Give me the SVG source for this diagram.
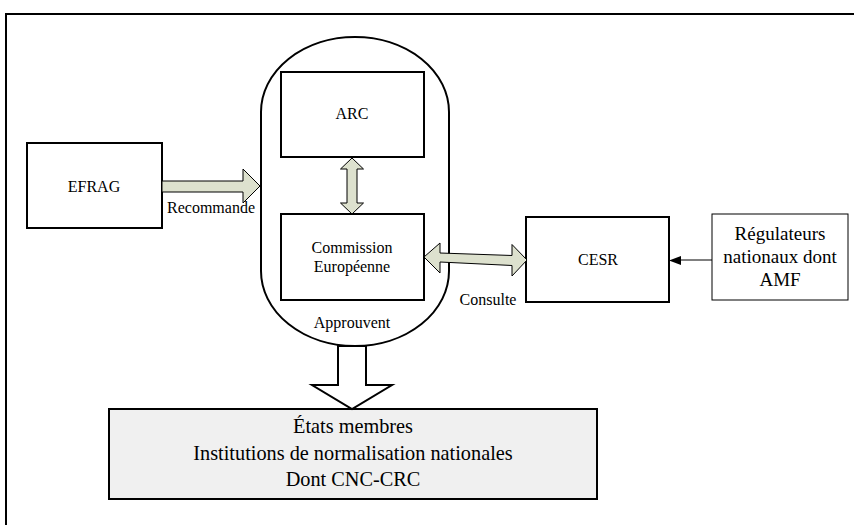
<svg xmlns="http://www.w3.org/2000/svg" width="854" height="525" viewBox="0 0 854 525">
<style>
text{font-family:"Liberation Serif","Times New Roman",serif;fill:#000;text-anchor:middle}
.box{fill:#fff;stroke:#000;stroke-width:2}
.thin{fill:#fff;stroke:#000;stroke-width:1}
.fat{fill:#dde1ce;stroke:#000;stroke-width:1}
.s16{font-size:16px}
.s19{font-size:19px}
.s20{font-size:20.3px}
</style>
<rect width="854" height="525" fill="#fff"/>
<path d="M6,540 L6,14 L870,14" fill="none" stroke="#000" stroke-width="2"/>
<g id="pill">
<path d="M261,112 A94,75 0 0 1 449,112 L449,271 A94,75 0 0 1 261,271 Z" fill="#fff" stroke="#000" stroke-width="2"/>
<text class="s16" x="352" y="328">Approuvent</text>
</g>
<g id="arc">
<rect class="box" x="281" y="72" width="143" height="85"/>
<text class="s16" x="352" y="119">ARC</text>
</g>
<g id="commission">
<rect class="box" x="281" y="214" width="143" height="86"/>
<text class="s16" x="352" y="253">Commission</text>
<text class="s16" x="352" y="272">Européenne</text>
</g>
<g id="efrag">
<rect class="box" x="27" y="143" width="135" height="85"/>
<text class="s16" x="94" y="192">EFRAG</text>
</g>
<g id="cesr">
<rect class="box" x="526" y="217" width="143" height="85"/>
<text class="s16" x="598" y="265">CESR</text>
</g>
<g id="regulateurs">
<rect class="thin" x="712" y="214" width="136" height="86"/>
<text class="s19" x="780" y="240">Régulateurs</text>
<text class="s19" x="780" y="263">nationaux dont</text>
<text class="s19" x="780" y="286">AMF</text>
</g>
<g id="etats">
<rect x="109" y="409" width="488" height="90" fill="#f0f0f0" stroke="#000" stroke-width="2"/>
<text class="s20" x="353" y="433">États membres</text>
<text class="s20" x="353" y="460">Institutions de normalisation nationales</text>
<text class="s20" x="353" y="486">Dont CNC-CRC</text>
</g>
<g id="connectors">
<polygon class="fat" points="162,181 243,181 243,169 260,186 243,203 243,192 162,192"/>
<text class="s16" x="211" y="213">Recommande</text>
<polygon class="fat" points="352,158 363.5,169 357,169 357,203 363.5,203 352,214 340.5,203 347,203 347,169 340.5,169"/>
<polygon class="fat" points="424,257 440,243 440,253 512,255.5 512,244.5 527,260 512,276 512,265.5 440,262 440,273"/>
<text class="s16" x="488" y="305">Consulte</text>
<line x1="712" y1="260" x2="680" y2="260" stroke="#000" stroke-width="1"/>
<polygon points="669,260.5 681,256 681,265" fill="#000"/>
<polygon points="338,346 338,385 312,385 352,409 392,385 366,385 366,346" fill="#fff" stroke="#000" stroke-width="2"/>
</g>
</svg>
